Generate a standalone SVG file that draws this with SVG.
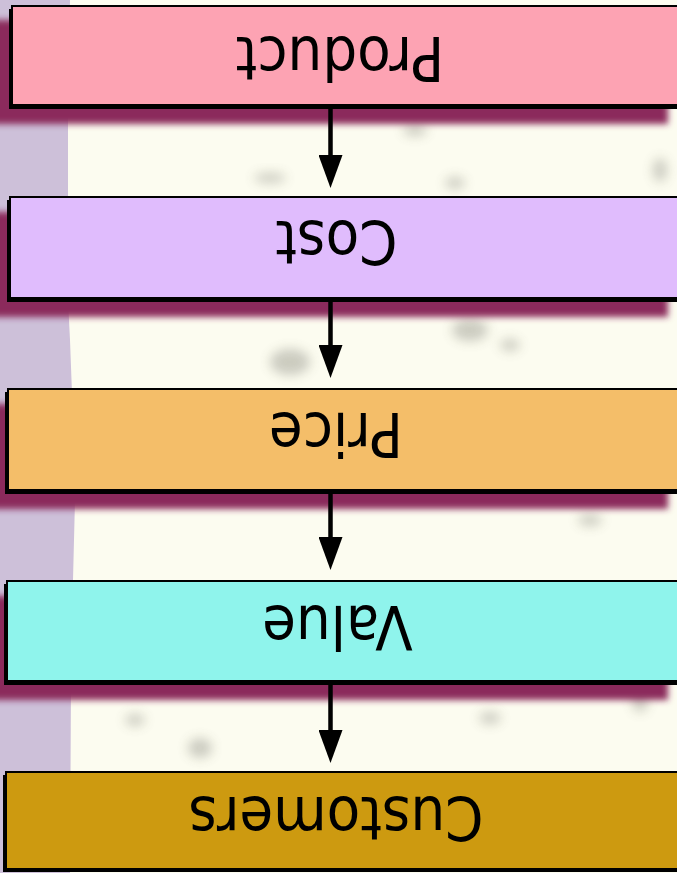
<svg xmlns="http://www.w3.org/2000/svg" width="677" height="873" viewBox="0 0 677 873">
  <style>
    .box { stroke: #000; stroke-width: 2; }
    .edge { fill: #000; }
    .shadow { fill: #8b2c5b; filter: url(#soft); }
    .label { font-family: "DejaVu Sans", "Liberation Sans", sans-serif; font-size: 61px; fill: #000; text-anchor: middle; }
    .link { stroke: #000; stroke-width: 4.5; fill: none; marker-end: url(#head); }
    .speck { fill: #5a5a50; filter: url(#haze); }
  </style>
  <defs>
    <filter id="soft" x="-10%" y="-30%" width="120%" height="160%">
      <feGaussianBlur stdDeviation="3"/>
    </filter>
    <filter id="haze" x="-100%" y="-100%" width="300%" height="300%">
      <feGaussianBlur stdDeviation="6"/>
    </filter>
    <marker id="head" viewBox="0 0 33 24" refX="23" refY="12" markerUnits="userSpaceOnUse" markerWidth="33" markerHeight="24" orient="auto">
      <path d="M0,0 L33,12 L0,24 Z" fill="#000"/>
    </marker>
  </defs>

  <!-- page background: cream sheet with a lilac margin on the left -->
  <g id="background">
    <rect x="0" y="0" width="677" height="873" fill="#fcfcf0"/>
    <path d="M0,0 L70,0 L68,120 L68,300 L70,340 L73,420 L75,500 L73,580 L71,680 L70,873 L0,873 Z" fill="#cdc0d9"/>
    <g opacity="0.3">
      <ellipse class="speck" cx="415" cy="130" rx="12" ry="6"/>
      <ellipse class="speck" cx="455" cy="183" rx="10" ry="6"/>
      <ellipse class="speck" cx="290" cy="362" rx="20" ry="13"/>
      <ellipse class="speck" cx="470" cy="330" rx="18" ry="11"/>
      <ellipse class="speck" cx="510" cy="345" rx="10" ry="6"/>
      <ellipse class="speck" cx="200" cy="748" rx="12" ry="10"/>
      <ellipse class="speck" cx="490" cy="718" rx="11" ry="6"/>
      <ellipse class="speck" cx="135" cy="720" rx="10" ry="6"/>
      <ellipse class="speck" cx="640" cy="700" rx="8" ry="12"/>
      <ellipse class="speck" cx="270" cy="178" rx="16" ry="5"/>
      <ellipse class="speck" cx="590" cy="520" rx="12" ry="6"/>
      <ellipse class="speck" cx="660" cy="170" rx="7" ry="12"/>
    </g>
  </g>

  <!-- Product -->
  <g id="node-product">
    <rect class="shadow" x="-10" y="20" width="678" height="104"/>
    <rect class="edge" x="9" y="9" width="700" height="100"/>
    <rect class="box" x="12" y="6" width="700" height="99" fill="#fda3b3"/>
    <text class="label" transform="translate(340 37) rotate(180) scale(0.9 1)" x="0" y="0">Product</text>
  </g>

  <!-- Cost -->
  <g id="node-cost">
    <rect class="shadow" x="-12" y="212" width="680" height="105"/>
    <rect class="edge" x="7" y="200" width="700" height="102"/>
    <rect class="box" x="10" y="197" width="700" height="101" fill="#e0bcfd"/>
    <text class="label" transform="translate(336.5 221) rotate(180) scale(0.9 1)" x="0" y="0">Cost</text>
  </g>

  <!-- Price -->
  <g id="node-price">
    <rect class="shadow" x="-12" y="404" width="680" height="105"/>
    <rect class="edge" x="5" y="392" width="700" height="102"/>
    <rect class="box" x="8" y="389" width="700" height="101" fill="#f4be69"/>
    <text class="label" transform="translate(336 413) rotate(180) scale(0.9 1)" x="0" y="0">Price</text>
  </g>

  <!-- Value -->
  <g id="node-value">
    <rect class="shadow" x="-12" y="596" width="680" height="104"/>
    <rect class="edge" x="4" y="584" width="700" height="101"/>
    <rect class="box" x="7" y="581" width="700" height="100" fill="#8ff4ec"/>
    <text class="label" transform="translate(337.5 606) rotate(180) scale(0.9 1)" x="0" y="0">Value</text>
  </g>

  <!-- Customers -->
  <g id="node-customers">
    <rect class="edge" x="3" y="775" width="700" height="97"/>
    <rect class="box" x="6" y="772" width="700" height="97" fill="#cd9a10"/>
    <text class="label" transform="translate(336 797) rotate(180) scale(0.9 1)" x="0" y="0">Customers</text>
  </g>

  <!-- connectors: arrow tips sit 10px past each line end -->
  <g id="connectors">
    <line class="link" x1="330.5" y1="109" x2="330.5" y2="178"/>
    <line class="link" x1="330.5" y1="302" x2="330.5" y2="368"/>
    <line class="link" x1="330.5" y1="494" x2="330.5" y2="560"/>
    <line class="link" x1="330.5" y1="685" x2="330.5" y2="753"/>
  </g>
</svg>
